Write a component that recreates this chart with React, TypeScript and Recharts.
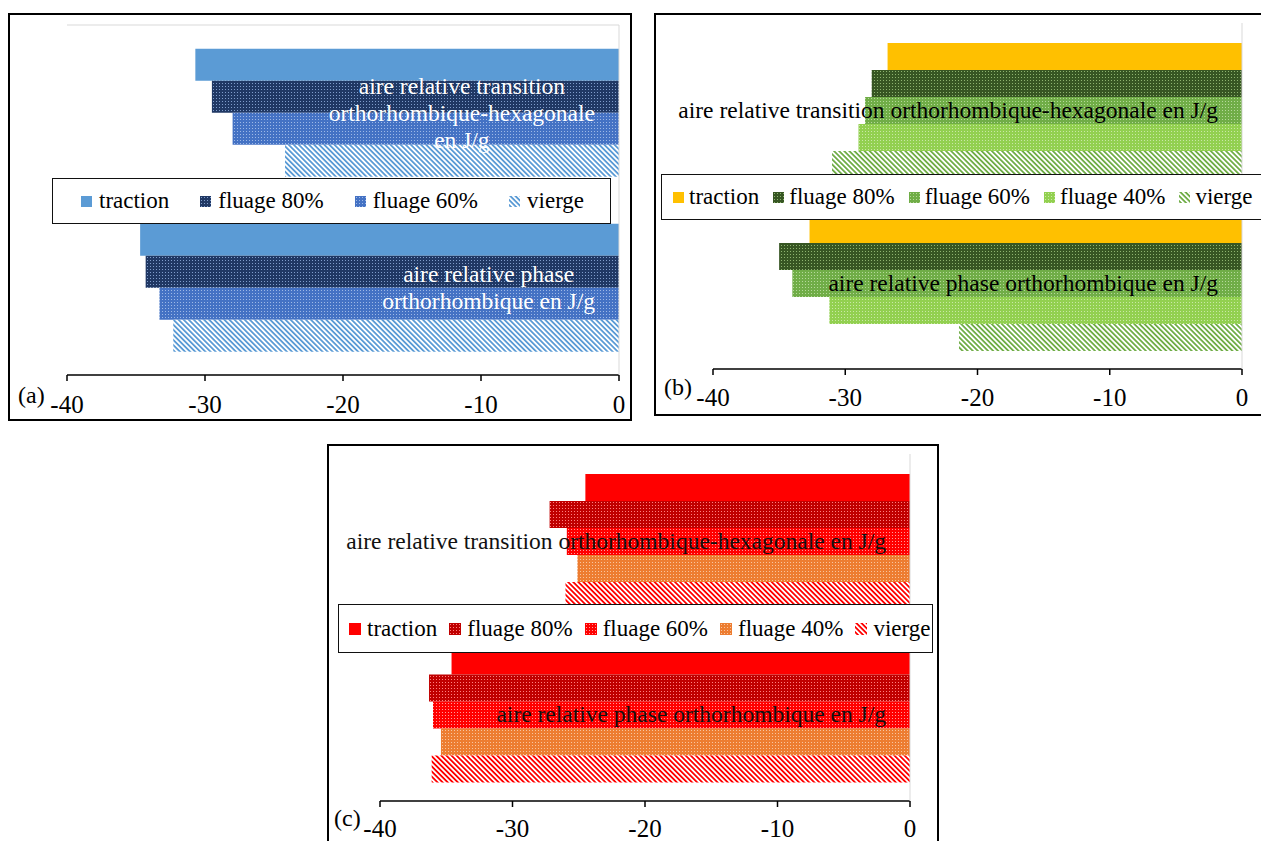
import React from 'react';
import { BarChart, Bar, XAxis, YAxis, Legend } from 'recharts';

const FONT = '"Liberation Serif", "Times New Roman", serif';

// shared
const categories = ['transition', 'phase'];
const xTicks = [-40, -30, -20, -10, 0];
const labelsA = [
  ['aire relative transition', 'orthorhombique-hexagonale', 'en J/g'],
  ['aire relative phase', 'orthorhombique en J/g'],
];
const labelsBC = [
  ['aire relative transition orthorhombique-hexagonale en J/g'],
  ['aire relative phase orthorhombique en J/g'],
];

// (a)
const aTraction = [-30.7, -34.7];
const aFluage80 = [-29.5, -34.3];
const aFluage60 = [-28.0, -33.3];
const aVierge = [-24.2, -32.3];

// (b)
const bTraction = [-26.8, -32.7];
const bFluage80 = [-28.0, -35.0];
const bFluage60 = [-28.5, -34.0];
const bFluage40 = [-29.0, -31.2];
const bVierge = [-31.0, -21.4];

// (c)
const cTraction = [-24.5, -34.6];
const cFluage80 = [-27.2, -36.3];
const cFluage60 = [-25.9, -36.0];
const cFluage40 = [-25.1, -35.4];
const cVierge = [-26.0, -36.1];

const dataA = categories.map((cat, i) => ({
  cat, traction: aTraction[i], fluage80: aFluage80[i], fluage60: aFluage60[i], vierge: aVierge[i],
}));
const dataB = categories.map((cat, i) => ({
  cat, traction: bTraction[i], fluage80: bFluage80[i], fluage60: bFluage60[i], fluage40: bFluage40[i], vierge: bVierge[i],
}));
const dataC = categories.map((cat, i) => ({
  cat, traction: cTraction[i], fluage80: cFluage80[i], fluage60: cFluage60[i], fluage40: cFluage40[i], vierge: cVierge[i],
}));

type Series = { key: string; name: string; fill: string };

const seriesA: Series[] = [
  { key: 'traction', name: 'traction', fill: '#5B9BD5' },
  { key: 'fluage80', name: 'fluage 80%', fill: 'url(#a-f80)' },
  { key: 'fluage60', name: 'fluage 60%', fill: 'url(#a-f60)' },
  { key: 'vierge', name: 'vierge', fill: 'url(#a-v)' },
];
const seriesB: Series[] = [
  { key: 'traction', name: 'traction', fill: '#FFC000' },
  { key: 'fluage80', name: 'fluage 80%', fill: 'url(#b-f80)' },
  { key: 'fluage60', name: 'fluage 60%', fill: 'url(#b-f60)' },
  { key: 'fluage40', name: 'fluage 40%', fill: 'url(#b-f40)' },
  { key: 'vierge', name: 'vierge', fill: 'url(#b-v)' },
];
const seriesC: Series[] = [
  { key: 'traction', name: 'traction', fill: '#FF0000' },
  { key: 'fluage80', name: 'fluage 80%', fill: 'url(#c-f80)' },
  { key: 'fluage60', name: 'fluage 60%', fill: 'url(#c-f60)' },
  { key: 'fluage40', name: 'fluage 40%', fill: 'url(#c-f40)' },
  { key: 'vierge', name: 'vierge', fill: 'url(#c-v)' },
];

const dotPatterns = [
  { id: 'a-f80', base: '#203864', dot: '#7F9CCB' },
  { id: 'a-f60', base: '#4472C4', dot: '#9DB8E6' },
  { id: 'b-f80', base: '#375623', dot: '#8DB36F' },
  { id: 'b-f60', base: '#70AD47', dot: '#B5D99A' },
  { id: 'b-f40', base: '#92D050', dot: '#C9E8A6' },
  { id: 'c-f80', base: '#C00000', dot: '#FF8080' },
  { id: 'c-f60', base: '#FF0000', dot: '#FF9A9A' },
  { id: 'c-f40', base: '#ED7D31', dot: '#F8C59E' },
];
const stripePatterns = [
  { id: 'a-v', color: '#5B9BD5' },
  { id: 'b-v', color: '#70AD47' },
  { id: 'c-v', color: '#FF0000' },
];

let ctx: CanvasRenderingContext2D | null = null;
function textWidth(s: string, size: number) {
  if (!ctx) ctx = document.createElement('canvas').getContext('2d');
  if (!ctx) return s.length * size * 0.45;
  ctx.font = `${size}px "Liberation Serif"`;
  return ctx.measureText(s).width;
}

function Patterns() {
  return (
    <svg width={0} height={0} style={{ position: 'absolute' }}>
      <defs>
        {dotPatterns.map((p) => (
          <pattern key={p.id} id={p.id} width={3} height={3} patternUnits="userSpaceOnUse">
            <rect width={3} height={3} fill={p.base} />
            <rect x={1} y={1} width={1} height={1} fill={p.dot} />
          </pattern>
        ))}
        {stripePatterns.map((p) => (
          <pattern key={p.id} id={p.id} width={3.6} height={3.6} patternUnits="userSpaceOnUse" patternTransform="rotate(-45)">
            <rect width={3.6} height={3.6} fill="#fff" />
            <rect width={1.8} height={3.6} fill={p.color} />
          </pattern>
        ))}
      </defs>
    </svg>
  );
}

function CatTick(props: any) {
  const { x, y, payload, lines, color, size, offset, lineHeight } = props;
  const idx = categories.indexOf(payload?.value);
  const lns: string[] = lines[idx] || [String(payload?.value ?? '')];
  const w = Math.max(...lns.map((l) => textWidth(l, size)));
  const cx = x - offset - w / 2;
  const y0 = y - ((lns.length - 1) * lineHeight) / 2;
  return (
    <g>
      {lns.map((l, i) => (
        <text key={i} x={cx} y={y0 + i * lineHeight} textAnchor="middle" dominantBaseline="central"
          fill={color} fontSize={size} fontFamily={FONT}>
          {l}
        </text>
      ))}
    </g>
  );
}

function LegendBox({ series, padLeft, gap, sq, sqGap, height }: any) {
  return (
    <div style={{
      boxSizing: 'border-box', height, border: '1.5px solid #111', background: '#fff',
      display: 'flex', alignItems: 'center', paddingLeft: padLeft, gap, fontFamily: FONT,
      fontSize: 23, color: '#000', whiteSpace: 'nowrap', overflow: 'hidden',
    }}>
      {series.map((s: Series) => (
        <div key={s.key} style={{ display: 'flex', alignItems: 'center' }}>
          <svg width={sq} height={sq} style={{ marginRight: sqGap }}>
            <rect width={sq} height={sq} fill={s.fill} />
          </svg>
          <span>{s.name}</span>
        </div>
      ))}
    </div>
  );
}

function Panel(p: any) {
  return (
    <div style={{ position: 'absolute', left: p.left, top: p.top, width: p.width, height: p.height }}>
      <BarChart width={p.width} height={p.height} data={p.data} layout="vertical"
        margin={p.margin} barGap={0} barCategoryGap={p.gap}>
        <XAxis type="number" domain={[-40, 0]} ticks={xTicks} allowDataOverflow
          height={p.axisHeight} tickSize={6} tickMargin={p.tickMargin}
          axisLine={{ stroke: '#000', strokeWidth: 1.5 }} tickLine={{ stroke: '#000', strokeWidth: 1.5 }}
          tick={{ fill: '#000', fontSize: 25, fontFamily: FONT }} />
        {p.topLine && (
          <XAxis xAxisId="top" orientation="top" type="number" domain={[-40, 0]} height={1}
            tick={false} tickLine={false} axisLine={{ stroke: '#D9D9D9' }} />
        )}
        {p.series.map((s: Series) => (
          <Bar key={s.key} dataKey={s.key} name={s.name} fill={s.fill} isAnimationActive={false} />
        ))}
        <YAxis type="category" dataKey="cat" orientation="right" width={1} interval={0}
          tickSize={0} tickMargin={0} tickLine={false} axisLine={{ stroke: '#D9D9D9' }}
          tick={(tp: any) => (
            <CatTick {...tp} lines={p.labels} color={p.labelColor} size={p.labelSize}
              offset={p.labelOffset} lineHeight={27} />
          )} />
        <Legend verticalAlign="middle" align="center" layout="horizontal"
          wrapperStyle={p.legendWrap}
          content={() => <LegendBox series={p.series} {...p.legendBox} height={p.legendWrap.height} />} />
      </BarChart>
      <span style={{
        position: 'absolute', left: p.letterLeft, top: p.letterY - 14, fontFamily: FONT,
        fontSize: 24, lineHeight: '28px', color: '#000',
      }}>{p.letter}</span>
      <div style={{
        position: 'absolute', inset: 0, boxSizing: 'border-box', border: '2px solid #000',
        pointerEvents: 'none',
      }} />
    </div>
  );
}

export default function App() {
  return (
    <div style={{ position: 'fixed', left: 0, top: 0, width: 1261, height: 841, overflow: 'hidden', background: '#fff' }}>
      <Patterns />
      <Panel left={8} top={13} width={624} height={408} data={dataA} series={seriesA}
        margin={{ top: 11, right: 12, left: 59, bottom: 0 }} axisHeight={46} tickMargin={14}
        gap="13.6%" topLine labels={labelsA} labelColor="#fff" labelSize={23.5} labelOffset={24}
        legendWrap={{ left: 44, top: 165, width: 559, height: 46 }}
        legendBox={{ padLeft: 28, gap: 31, sq: 11, sqGap: 7 }}
        letter="(a)" letterLeft={10} letterY={382} />
      <Panel left={654} top={13} width={620} height={403} data={dataB} series={seriesB}
        margin={{ top: 10, right: 31, left: 59, bottom: 0 }} axisHeight={47} tickMargin={13}
        gap="11.5%" labels={labelsBC} labelColor="#000" labelSize={23.5} labelOffset={24}
        legendWrap={{ left: 7, top: 161, width: 608, height: 46 }}
        legendBox={{ padLeft: 11, gap: 14, sq: 11, sqGap: 5 }}
        letter="(b)" letterLeft={10} letterY={374} />
      <Panel left={327} top={444} width={612} height={408} data={dataC} series={seriesC}
        margin={{ top: 10, right: 28, left: 53, bottom: 0 }} axisHeight={51} tickMargin={12}
        gap="11.5%" labels={labelsBC} labelColor="#111" labelSize={23.5} labelOffset={24}
        legendWrap={{ left: 11, top: 160, width: 595, height: 49 }}
        legendBox={{ padLeft: 10, gap: 12, sq: 12, sqGap: 6 }}
        letter="(c)" letterLeft={7} letterY={374} />
    </div>
  );
}
